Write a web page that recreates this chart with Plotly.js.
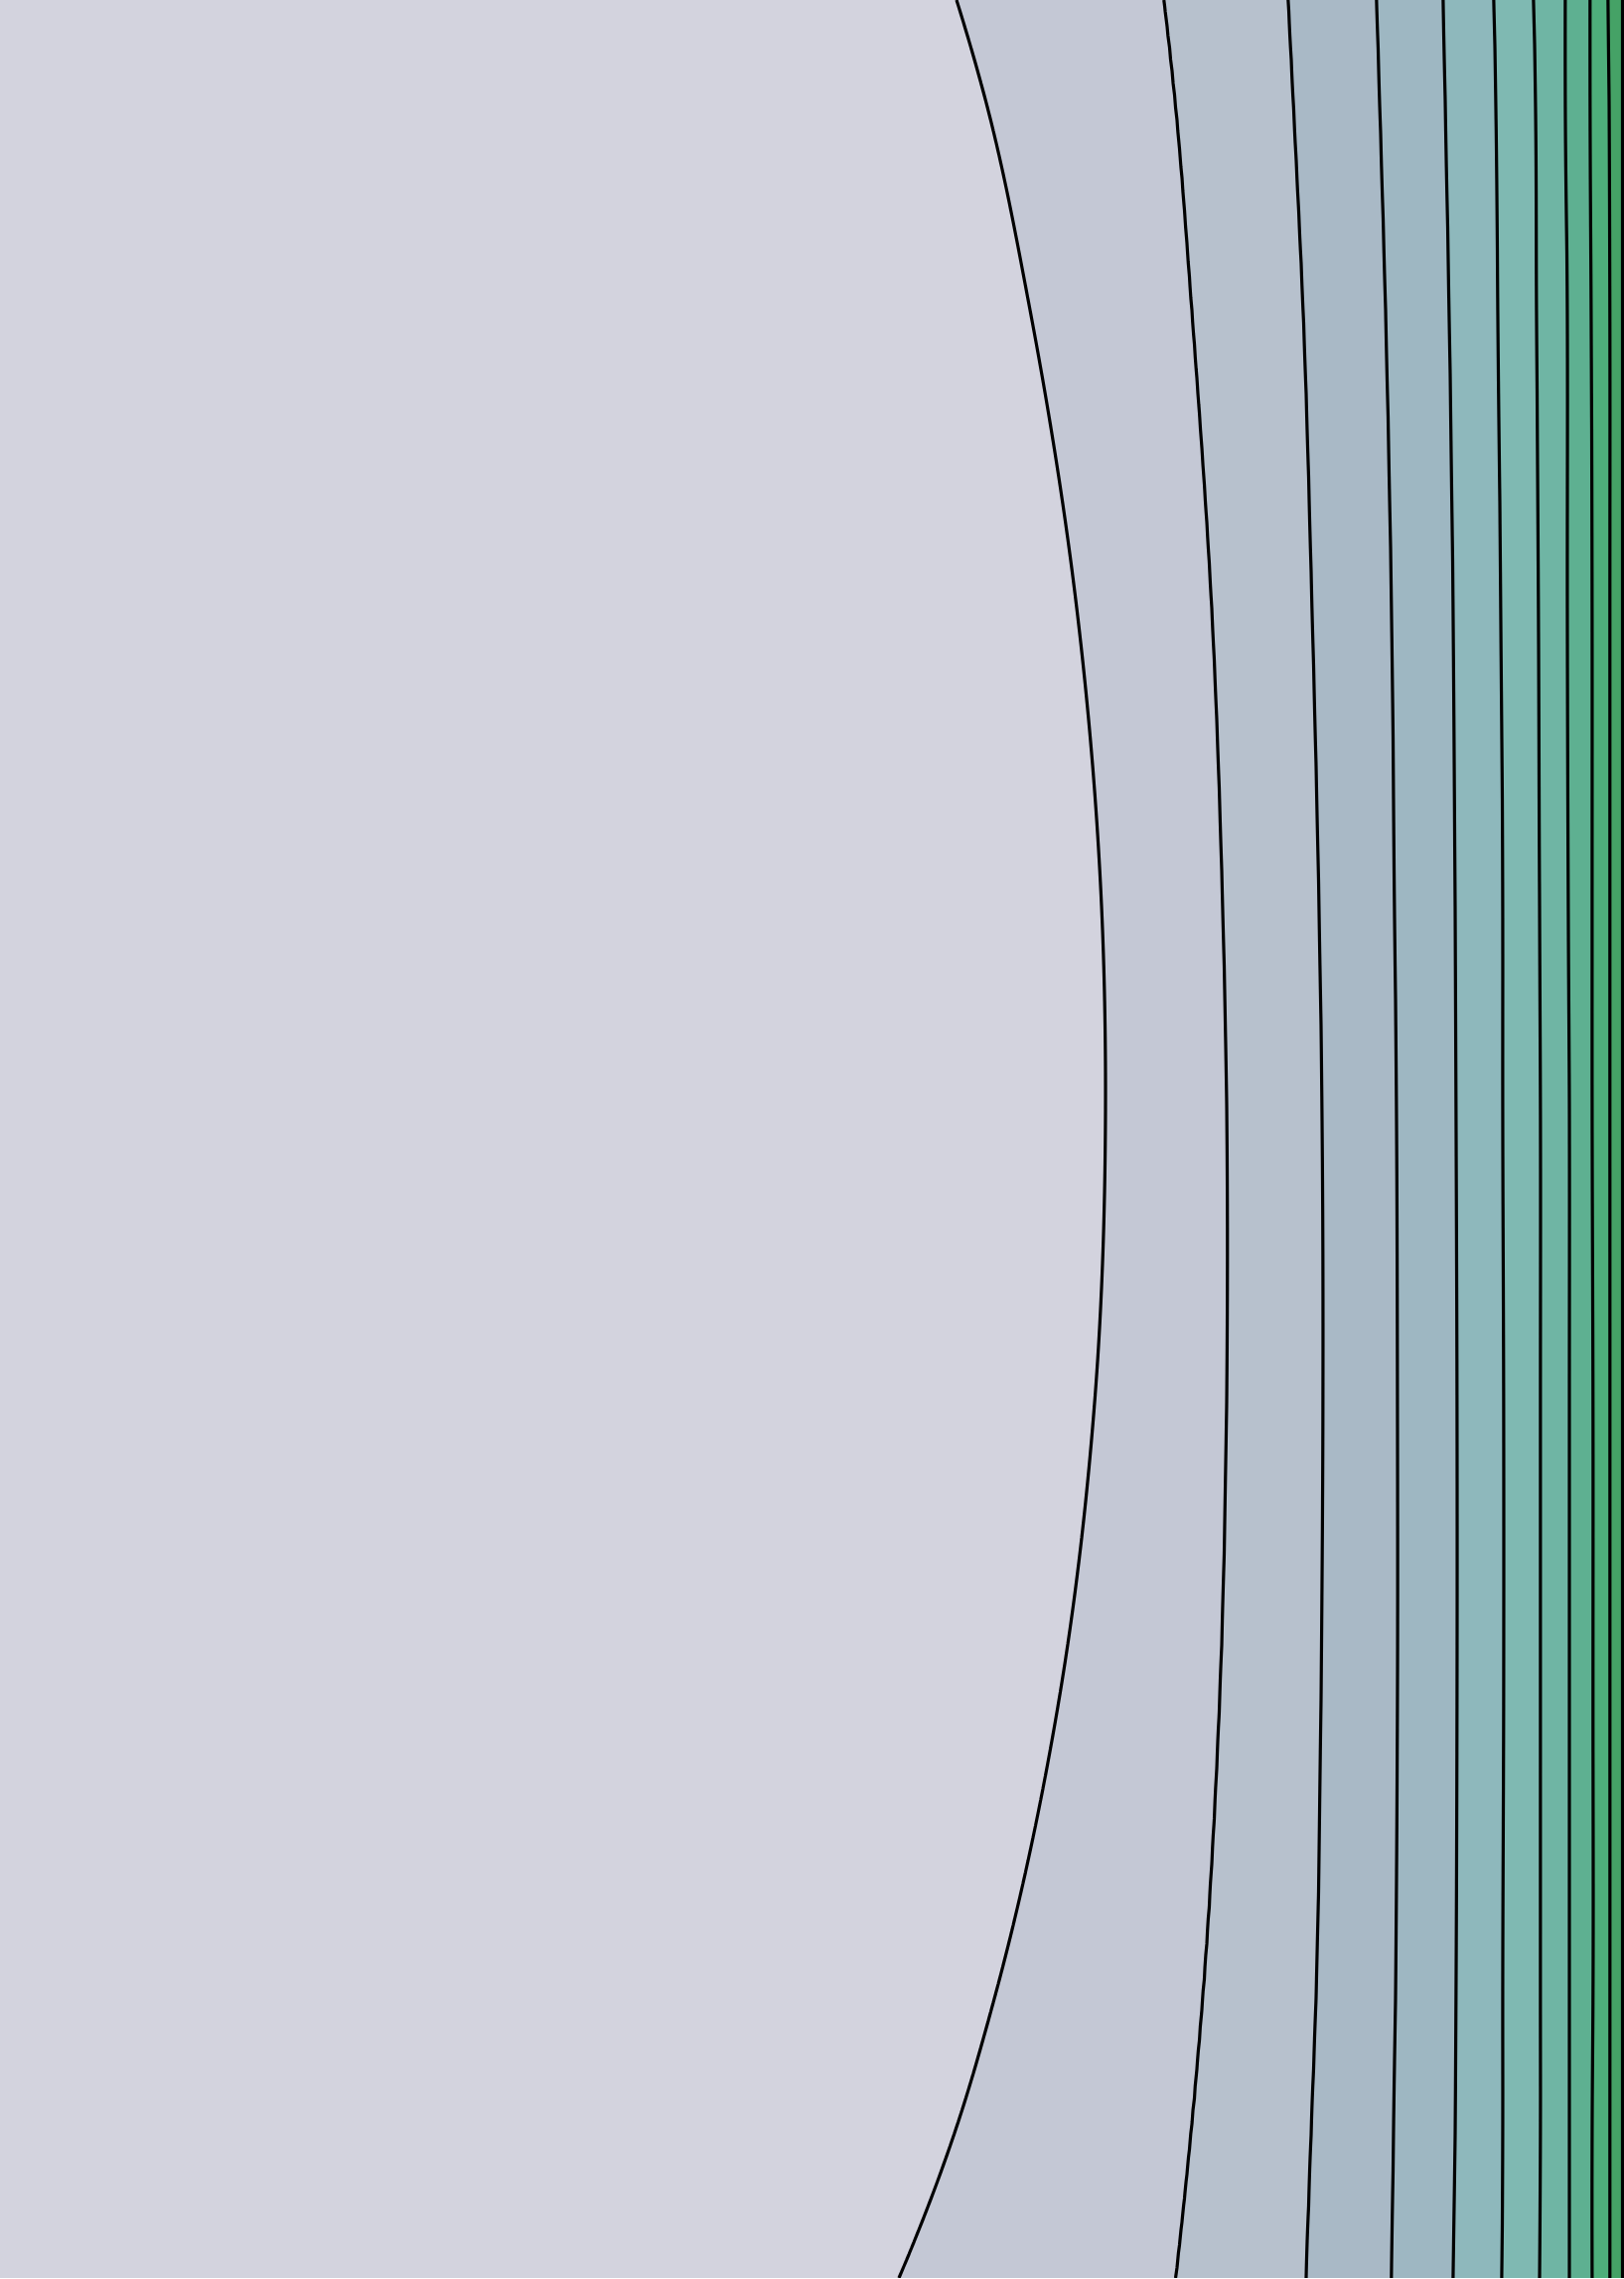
<!DOCTYPE html>
<html>
<head>
<meta charset="utf-8">
<script src="https://cdn.plot.ly/plotly-3.0.1.min.js"></script>
<style>
html,body{margin:0;padding:0;background:#ffffff;overflow:hidden}
#chart{width:1635px;height:2294px}
</style>
</head>
<body>
<div id="chart"></div>
<script>
// Row positions (pixels from top) at which contour-line positions were read
const rowY = [0, 100, 312, 612, 912, 1111, 1412, 1712, 2012, 2150, 2293];

// x-position of each contour line (level 1..11) at each row
const line1  = [963, 992, 1037, 1084, 1109, 1113, 1102, 1066, 1001, 960, 905];
const line2  = [1172, 1183, 1200, 1220, 1231, 1235, 1235, 1228, 1211, 1199, 1184];
const line3  = [1297, 1302, 1312, 1321, 1328, 1331, 1332, 1330, 1325, 1320, 1315];
const line4  = [1386, 1389, 1395, 1401, 1404, 1406, 1407, 1407, 1405, 1403, 1401];
const line5  = [1453, 1455, 1459, 1463, 1465, 1466, 1467, 1467, 1466, 1465, 1463];
const line6  = [1504, 1506, 1508, 1511, 1513, 1513, 1514, 1514, 1513, 1513, 1512];
const line7  = [1544, 1546, 1547, 1549, 1550, 1551, 1551, 1551, 1551, 1551, 1550];
const line8  = [1576, 1576, 1578, 1578, 1579, 1580, 1580, 1580, 1580, 1580, 1580];
const line9  = [1601, 1601, 1602, 1603, 1603, 1603, 1604, 1604, 1604, 1603, 1603];
const line10 = [1619, 1620, 1621, 1621, 1621, 1621, 1621, 1621, 1621, 1621, 1621];
const line11 = [1633.5, 1633.5, 1633.5, 1633.5, 1633.5, 1633.5, 1633.5, 1633.5, 1633.5, 1633.5, 1633.5];

const levels = [1, 2, 3, 4, 5, 6, 7, 8, 9, 10, 11];

// Fill colour of each band, from left (below level 1) to right (above level 11)
const bandColors = ['#d3d3de', '#c4c8d5', '#b7c1cd', '#a9b9c6', '#9eb7c2', '#8eb8bc',
                    '#7fb9b2', '#6fb5a4', '#5eb091', '#4eae7b', '#45a266', '#3b9456'];

// ---- build the grid the contour trace needs from the read line positions ----
const lines = [line1, line2, line3, line4, line5, line6, line7, line8, line9, line10, line11];

// smooth (cubic Hermite, non-uniform tangents) position of a read line at any height
function lineAt(vals, y) {
  const t = rowY, n = t.length;
  let i = 0;
  while (i < n - 2 && y > t[i + 1]) i++;
  const d = k => (vals[k + 1] - vals[k]) / (t[k + 1] - t[k]);
  const hh = k => t[k + 1] - t[k];
  const slope = k => {
    if (k === 0) return ((2 * hh(0) + hh(1)) * d(0) - hh(0) * d(1)) / (hh(0) + hh(1));
    if (k === n - 1) {
      const a = hh(n - 2), b = hh(n - 3);
      return ((2 * a + b) * d(n - 2) - a * d(n - 3)) / (a + b);
    }
    return (hh(k - 1) * d(k) + hh(k) * d(k - 1)) / (hh(k - 1) + hh(k));
  };
  const h = hh(i);
  const s = Math.min(1, Math.max(0, (y - t[i]) / h));
  const h00 = 2 * s * s * s - 3 * s * s + 1, h10 = s * s * s - 2 * s * s + s;
  const h01 = -2 * s * s * s + 3 * s * s, h11 = s * s * s - s * s;
  return h00 * vals[i] + h10 * h * slope(i) + h01 * vals[i + 1] + h11 * h * slope(i + 1);
}

const xs = [];
for (let x = 0; x <= 1635; x += 2.5) xs.push(x);
const ys = [];
for (let y = 0; y <= 2293; y += 12) ys.push(y);
if (ys[ys.length - 1] !== 2293) ys.push(2293);

const z = ys.map(y => {
  const knots = lines.map(l => lineAt(l, y));
  const n = knots.length;
  return xs.map(x => {
    if (x <= knots[0]) return levels[0] - (knots[0] - x) / (knots[1] - knots[0]);
    if (x >= knots[n - 1]) return levels[n - 1] + (x - knots[n - 1]) / (knots[n - 1] - knots[n - 2]);
    for (let k = 0; k < n - 1; k++) {
      if (x >= knots[k] && x <= knots[k + 1]) {
        return levels[k] + (x - knots[k]) / (knots[k + 1] - knots[k]);
      }
    }
    return levels[n - 1];
  });
});

const colorscale = bandColors.map((c, i) => [i / (bandColors.length - 1), c]);

const trace = {
  type: 'contour',
  x: xs,
  y: ys,
  z: z,
  zauto: false,
  zmin: levels[0] - 0.5,
  zmax: levels[levels.length - 1] + 0.5,
  autocontour: false,
  contours: {
    start: levels[0],
    end: levels[levels.length - 1],
    size: 1,
    coloring: 'fill',
    showlines: true
  },
  line: { color: '#000000', width: 3.2, smoothing: 0 },
  colorscale: colorscale,
  showscale: false,
  hoverinfo: 'skip'
};

const layout = {
  width: 1635,
  height: 2294,
  margin: { l: 0, r: 0, t: 0, b: 1, pad: 0 },
  paper_bgcolor: '#ffffff',
  plot_bgcolor: '#ffffff',
  showlegend: false,
  xaxis: { range: [0, 1635], visible: false, showgrid: false, zeroline: false, fixedrange: true },
  yaxis: { range: [2293, 0], visible: false, showgrid: false, zeroline: false, fixedrange: true }
};

Plotly.newPlot('chart', [trace], layout, { displayModeBar: false, staticPlot: true });
</script>
</body>
</html>
